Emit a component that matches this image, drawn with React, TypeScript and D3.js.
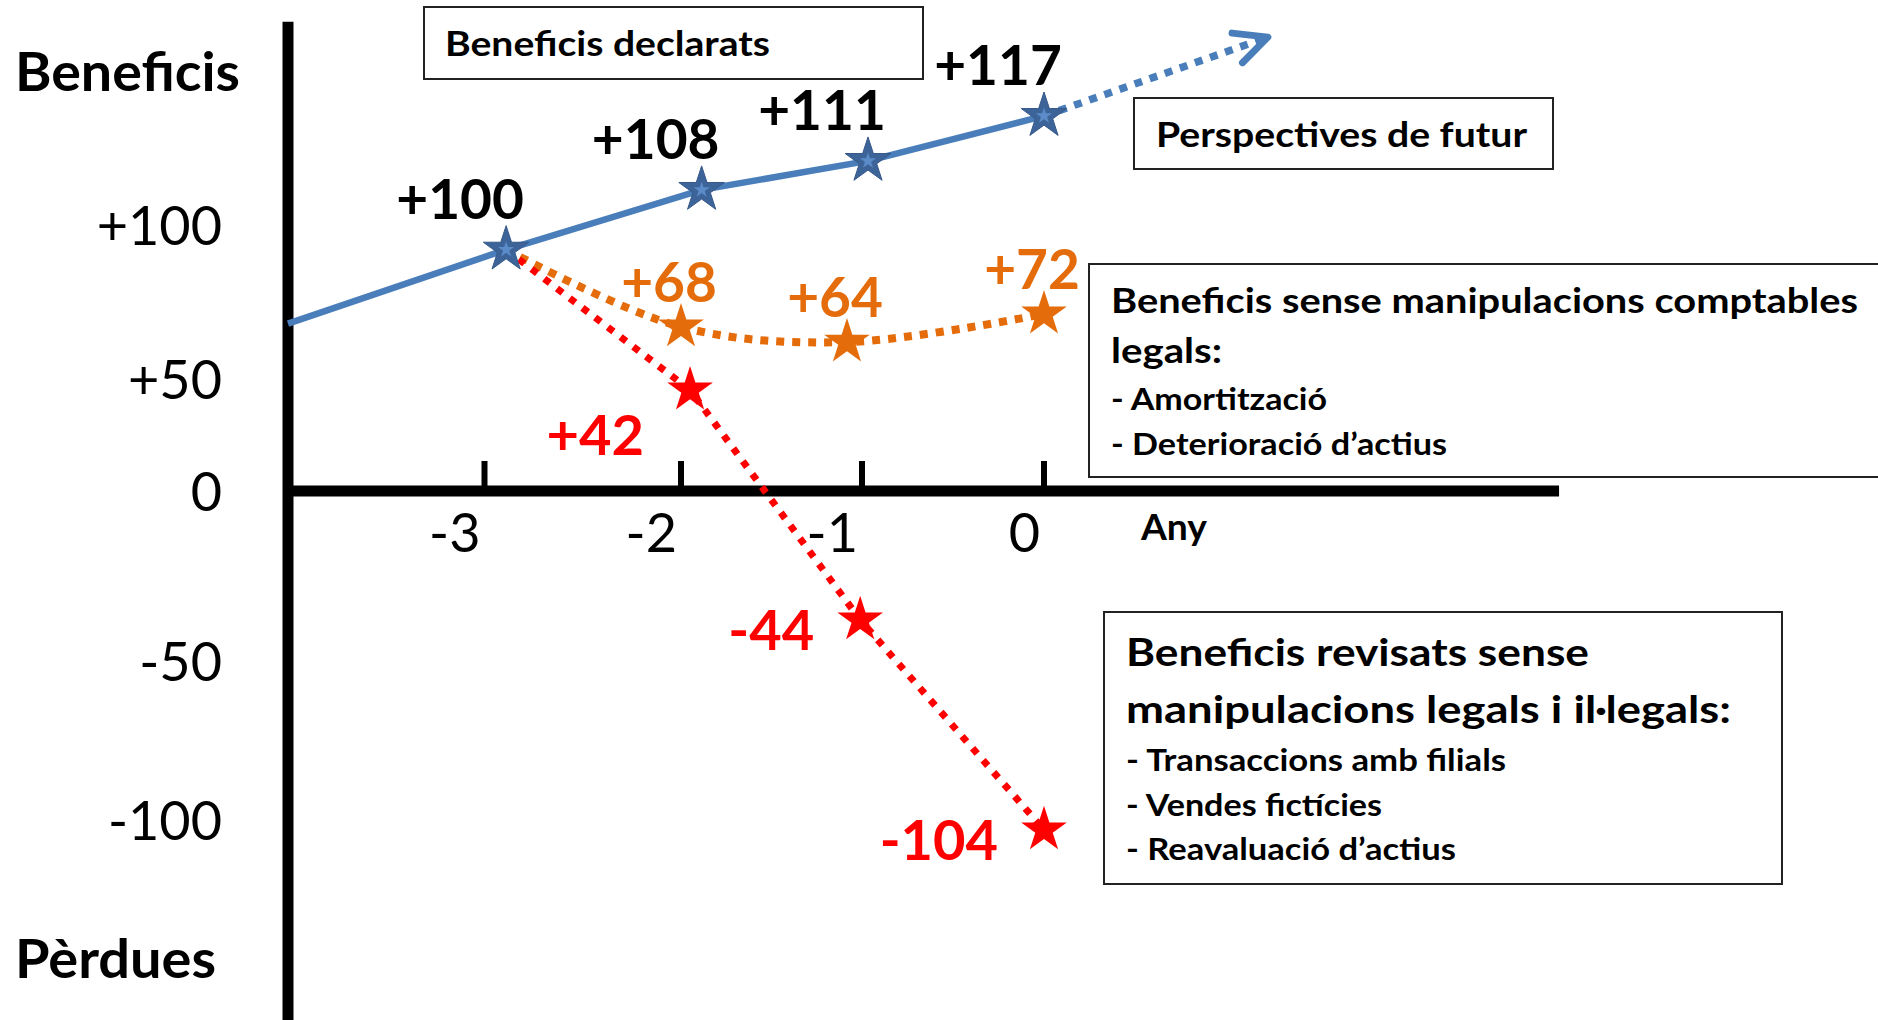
import React from "react";
import * as d3 from "d3";

// ---------- data ----------
const xTickYears = [-3, -2, -1, 0];
const xTickLabels = ["-3", "-2", "-1", "0"];
const yTickValues = [100, 50, 0, -50, -100];
const yTickLabels = ["+100", "+50", "0", "-50", "-100"];

// Declared profits (blue): line start at the axis, then starred years
const declaredStartYear = -4;
const declaredStartLevel = 68;
const declaredYears = [-2.89, -1.886, -0.967, 0];
const declaredLevels = [92, 111.4, 120.8, 135.4];
const declaredValues = [100, 108, 111, 117];

// Future prospects (blue dotted arrow)
const futureYear = 1.23;
const futureLevel = 161;

// Profits without legal accounting manipulation (orange)
const legalYears = [-2.0, -1.083, 0];
const legalLevels = [66.9, 62, 71.1];
const legalValues = [68, 64, 72];

// Revised profits without legal and illegal manipulation (red)
const revisedYears = [-1.95, -1.01, 0];
const revisedLevels = [45.1, -37.9, -103.1];
const revisedValues = [42, -44, -104];

// ---------- layout ----------
const W = 1878;
const H = 1020;
const FONT = "Lato, 'Open Sans', sans-serif";
const BLUE = "#4a7ebb";
const BLUE_STAR = "#3d6499";
const BLUE_STAR_IN = "#5b8bc8";
const ORANGE = "#e46c0a";
const RED = "#ff0000";

const x = d3.scaleLinear().domain([-3, -2, -1, 0]).range([484.5, 681, 862, 1044]);
const y = d3.scaleLinear().domain([-100, -50, 0, 50, 100]).range([820, 661, 491, 379, 225]);

const fmt = (v: number) => (v > 0 ? "+" + v : String(v));

const starPath = d3.symbol().type(d3.symbolStar).size(646)() as string;
const starInner = d3.symbol().type(d3.symbolStar).size(80)() as string;

type Pt = [number, number];
const lineLin = d3
  .line<Pt>()
  .x((d) => x(d[0]))
  .y((d) => y(d[1]));
const lineSmooth = d3
  .line<Pt>()
  .x((d) => x(d[0]))
  .y((d) => y(d[1]))
  .curve(d3.curveCatmullRom.alpha(0.5));

function Box({
  x0, y0, x1, y1, lines,
}: {
  x0: number; y0: number; x1: number; y1: number;
  lines: { t: string; tx: number; by: number; fs: number; len: number }[];
}) {
  return (
    <g>
      <rect x={x0} y={y0} width={x1 - x0} height={y1 - y0} fill="#fff" stroke="#222" strokeWidth={2} />
      {lines.map((l, i) => (
        <text key={i} x={l.tx} y={l.by} fontSize={l.fs} fontWeight="bold" fontFamily={FONT}
          textLength={l.len} lengthAdjust="spacingAndGlyphs" fill="#000">
          {l.t}
        </text>
      ))}
    </g>
  );
}

export default function App() {
  const first: Pt = [declaredYears[0], declaredLevels[0]];
  const bluePts: Pt[] = [[declaredStartYear, declaredStartLevel] as Pt].concat(
    declaredYears.map((yr, i) => [yr, declaredLevels[i]] as Pt)
  );
  const orangePts: Pt[] = [first].concat(legalYears.map((yr, i) => [yr, legalLevels[i]] as Pt));
  const redPts: Pt[] = [first].concat(revisedYears.map((yr, i) => [yr, revisedLevels[i]] as Pt));

  const lastBlue: Pt = [declaredYears[3], declaredLevels[3]];
  const bx = x(lastBlue[0]);
  const by = y(lastBlue[1]);
  const tx = x(futureYear);
  const ty = y(futureLevel);
  const ang = Math.atan2(ty - by, tx - bx);
  const armLen = 36;
  const armA = 0.45;
  const a1 = [tx + armLen * Math.cos(ang + Math.PI - armA), ty + armLen * Math.sin(ang + Math.PI - armA)];
  const a2 = [tx + armLen * Math.cos(ang + Math.PI + armA), ty + armLen * Math.sin(ang + Math.PI + armA)];

  const axisX = x(-4);
  const axisY = y(0);

  return (
    <svg width={W} height={H} style={{ position: "absolute", left: 0, top: 0, background: "#fff" }}
      fontFamily={FONT}>
      <rect x={0} y={0} width={W} height={H} fill="#fff" />

      {/* axes */}
      <line x1={axisX} x2={axisX} y1={y(166)} y2={H} stroke="#000" strokeWidth={11} />
      <line x1={axisX - 5} x2={x(2.83)} y1={axisY} y2={axisY} stroke="#000" strokeWidth={11} />
      {xTickYears.map((t) => (
        <line key={t} x1={x(t)} x2={x(t)} y1={axisY - 30} y2={axisY} stroke="#000" strokeWidth={6} />
      ))}
      {xTickYears.map((t, i) => (
        <text key={"xl" + t} x={x(t) - 4} y={552} fontSize={54} textAnchor="end" fill="#000">
          {xTickLabels[i]}
        </text>
      ))}
      <text x={1141} y={540} fontSize={36} fontWeight="bold" textLength={66} lengthAdjust="spacingAndGlyphs">Any</text>
      {yTickValues.map((v, i) => (
        <text key={"yl" + v} x={222} y={y(v) + 20} fontSize={54} textAnchor="end" fill="#000">
          {yTickLabels[i]}
        </text>
      ))}
      <text x={15} y={91} fontSize={53} fontWeight="bold" textLength={225} lengthAdjust="spacingAndGlyphs">Beneficis</text>
      <text x={15} y={978} fontSize={53} fontWeight="bold" textLength={201} lengthAdjust="spacingAndGlyphs">Pèrdues</text>

      {/* series lines */}
      <path d={lineSmooth(orangePts) || ""} fill="none" stroke={ORANGE} strokeWidth={8} strokeDasharray="8 8" />
      <path d={lineLin(redPts) || ""} fill="none" stroke={RED} strokeWidth={7} strokeDasharray="7 9" />
      <path d={lineLin(bluePts) || ""} fill="none" stroke={BLUE} strokeWidth={6.5} />
      <line x1={bx} y1={by} x2={tx} y2={ty} stroke={BLUE} strokeWidth={7.5} strokeDasharray="8 8" />
      <polyline points={`${a1[0]},${a1[1]} ${tx},${ty} ${a2[0]},${a2[1]}`} fill="none" stroke={BLUE}
        strokeWidth={7} strokeLinecap="round" strokeLinejoin="round" />

      {/* stars */}
      {legalYears.map((yr, i) => (
        <path key={"os" + i} d={starPath} transform={`translate(${x(yr)},${y(legalLevels[i])})`} fill={ORANGE} />
      ))}
      {revisedYears.map((yr, i) => (
        <path key={"rs" + i} d={starPath} transform={`translate(${x(yr)},${y(revisedLevels[i])})`} fill={RED} />
      ))}
      {declaredYears.map((yr, i) => (
        <g key={"bs" + i} transform={`translate(${x(yr)},${y(declaredLevels[i])})`}>
          <path d={starPath} fill={BLUE_STAR} stroke="#36598a" strokeWidth={1} />
          <path d={starInner} fill={BLUE_STAR_IN} />
        </g>
      ))}

      {/* value labels */}
      {declaredYears.map((yr, i) => (
        <text key={"bl" + i} x={x(yr) - 46} y={y(declaredLevels[i]) - 31} fontSize={55} fontWeight="bold"
          textAnchor="middle" fill="#000">
          {fmt(declaredValues[i])}
        </text>
      ))}
      {legalYears.map((yr, i) => (
        <text key={"ol" + i} x={x(yr) - 12} y={y(legalLevels[i]) - 25} fontSize={55} fontWeight="bold"
          textAnchor="middle" fill={ORANGE}>
          {fmt(legalValues[i])}
        </text>
      ))}
      {revisedYears.map((yr, i) => (
        <text key={"rl" + i} x={x(yr) - 46} y={y(revisedLevels[i]) + (revisedValues[i] > 0 ? 65 : 30)}
          fontSize={56} fontWeight="bold" textAnchor="end" fill={RED}>
          {fmt(revisedValues[i])}
        </text>
      ))}

      {/* annotation boxes */}
      <Box x0={424} y0={7} x1={923} y1={79}
        lines={[{ t: "Beneficis declarats", tx: 445, by: 56, fs: 34, len: 325 }]} />
      <Box x0={1134} y0={98} x1={1553} y1={169}
        lines={[{ t: "Perspectives de futur", tx: 1156, by: 147, fs: 35, len: 371 }]} />
      <Box x0={1089} y0={264} x1={1890} y1={477}
        lines={[
          { t: "Beneficis sense manipulacions comptables", tx: 1111, by: 313, fs: 35, len: 747 },
          { t: "legals:", tx: 1111, by: 363, fs: 35, len: 111 },
          { t: "- Amortització", tx: 1111, by: 410, fs: 31, len: 216 },
          { t: "- Deterioració d’actius", tx: 1111, by: 455, fs: 31, len: 336 },
        ]} />
      <Box x0={1104} y0={612} x1={1782} y1={884}
        lines={[
          { t: "Beneficis revisats sense", tx: 1126, by: 666, fs: 38.5, len: 463 },
          { t: "manipulacions legals i il·legals:", tx: 1126, by: 723, fs: 38.5, len: 605 },
          { t: "- Transaccions amb filials", tx: 1126, by: 771, fs: 31, len: 380 },
          { t: "- Vendes fictícies", tx: 1126, by: 816, fs: 31, len: 256 },
          { t: "- Reavaluació d’actius", tx: 1126, by: 860, fs: 31, len: 330 },
        ]} />
    </svg>
  );
}
